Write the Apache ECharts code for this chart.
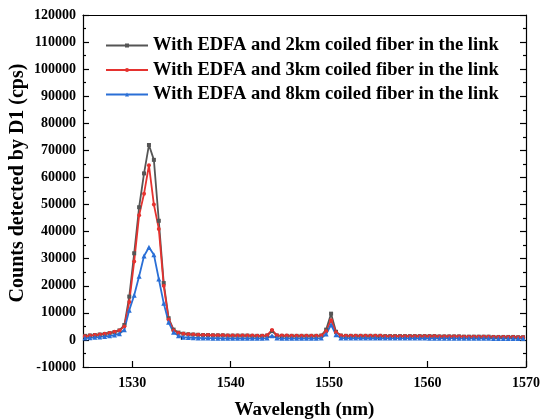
<!DOCTYPE html>
<html>
<head>
<meta charset="utf-8">
<script src="https://cdn.jsdelivr.net/npm/echarts@6/dist/echarts.min.js"></script>
<style>
  html, body { margin: 0; padding: 0; background: #fff; }
  #chart { width: 540px; height: 420px; }
</style>
</head>
<body>
<div id="chart"></div>
<script>
// wavelength samples (nm)
const wavelengths = [
  1525.2, 1525.7, 1526.2, 1526.7, 1527.2, 1527.7, 1528.2, 1528.7, 1529.2, 1529.7,
  1530.2, 1530.7, 1531.2, 1531.7, 1532.2, 1532.7, 1533.2, 1533.7, 1534.2, 1534.7,
  1535.2, 1535.7, 1536.2, 1536.7, 1537.2, 1537.7, 1538.2, 1538.7, 1539.2, 1539.7,
  1540.2, 1540.7, 1541.2, 1541.7, 1542.2, 1542.7, 1543.2, 1543.7, 1544.2, 1544.7,
  1545.2, 1545.7, 1546.2, 1546.7, 1547.2, 1547.7, 1548.2, 1548.7, 1549.2, 1549.7,
  1550.2, 1550.7, 1551.2, 1551.7, 1552.2, 1552.7, 1553.2, 1553.7, 1554.2, 1554.7,
  1555.2, 1555.7, 1556.2, 1556.7, 1557.2, 1557.7, 1558.2, 1558.7, 1559.2, 1559.7,
  1560.2, 1560.7, 1561.2, 1561.7, 1562.2, 1562.7, 1563.2, 1563.7, 1564.2, 1564.7,
  1565.2, 1565.7, 1566.2, 1566.7, 1567.2, 1567.7, 1568.2, 1568.7, 1569.2, 1569.7
]

const counts2km = [
  1500, 1650, 1800, 2000, 2200, 2500, 2900, 3500, 5500, 16000,
  32000, 49000, 61500, 72000, 66500, 44000, 21000, 8000, 3800, 2700,
  2300, 2100, 2000, 1900, 1800, 1800, 1700, 1700, 1700, 1600,
  1600, 1600, 1600, 1600, 1500, 1500, 1500, 1600, 3300, 1600,
  1500, 1500, 1500, 1500, 1500, 1500, 1500, 1500, 1600, 3800,
  9700, 3000, 1600, 1500, 1500, 1500, 1500, 1500, 1500, 1500,
  1500, 1400, 1400, 1400, 1400, 1400, 1400, 1400, 1400, 1400,
  1400, 1400, 1300, 1300, 1300, 1300, 1300, 1200, 1200, 1200,
  1200, 1200, 1200, 1100, 1100, 1100, 1100, 1100, 1000, 1000
]

const counts3km = [
  1400, 1600, 1800, 2000, 2300, 2600, 3000, 3500, 5000, 14000,
  29000, 46000, 54000, 64500, 50000, 41000, 20000, 7500, 3500, 2600,
  2300, 2100, 2000, 1900, 1800, 1800, 1700, 1700, 1700, 1600,
  1600, 1600, 1600, 1600, 1600, 1500, 1500, 1700, 3700, 1700,
  1600, 1600, 1500, 1500, 1500, 1500, 1500, 1500, 1600, 3200,
  7300, 2800, 1600, 1500, 1500, 1500, 1500, 1500, 1500, 1500,
  1500, 1400, 1400, 1400, 1400, 1400, 1400, 1400, 1400, 1400,
  1400, 1400, 1300, 1300, 1300, 1300, 1300, 1200, 1200, 1200,
  1200, 1200, 1200, 1100, 1100, 1100, 1100, 1100, 1000, 1000
]

const counts8km = [
  700, 800, 950, 1100, 1300, 1500, 1800, 2300, 3800, 11000,
  16500, 23500, 31000, 34200, 31500, 22500, 13500, 6500, 2800, 1500,
  1000, 900, 800, 750, 700, 700, 650, 650, 600, 600,
  600, 600, 600, 600, 600, 600, 600, 700, 1500, 700,
  600, 600, 600, 600, 600, 600, 600, 600, 700, 2200,
  5600, 1900, 700, 700, 700, 700, 700, 700, 700, 700,
  700, 700, 700, 700, 700, 700, 700, 700, 700, 700,
  650, 650, 650, 650, 650, 650, 600, 600, 600, 600,
  600, 600, 600, 550, 550, 550, 550, 500, 500, 500
]

const seriesNames = [
  'With EDFA and 2km coiled fiber in the link',
  'With EDFA and 3km coiled fiber in the link',
  'With EDFA and 8km coiled fiber in the link'
]

const xMajorTicks = [1530, 1540, 1550, 1560, 1570]
const xMinorTicks = [1535, 1545, 1555, 1565]

const FONT = '"Liberation Serif", "Times New Roman", serif'

function pairs(values) {
  return wavelengths.map((w, i) => [w, values[i]])
}

function makeSeries(name, values, color, symbol, size) {
  return {
    type: 'line',
    name,
    data: pairs(values),
    xAxisIndex: 0,
    yAxisIndex: 0,
    symbol,
    symbolSize: size,
    showAllSymbol: true,
    lineStyle: { color, width: 1.8 },
    itemStyle: { color },
    emphasis: { disabled: true },
  }
}

const axisLine = { show: true, onZero: false, lineStyle: { color: '#000', width: 1.2 } }
const tickLine = { color: '#000', width: 1.2 }

function buildOption() {
  return {
    animation: false,
    backgroundColor: '#fff',
    grid: { left: 83, right: 14, top: 15, bottom: 53, containLabel: false, outerBoundsMode: 'none' },
    legend: {
      orient: 'vertical',
      left: 100,
      top: 31,
      itemWidth: 42,
      itemHeight: 5,
      itemGap: 5.5,
      data: seriesNames,
      textStyle: { fontFamily: FONT, fontWeight: 'bold', fontSize: 18.5, color: '#000' },
    },
    xAxis: [
      {
        type: 'value',
        min: 1525,
        max: 1570,
        position: 'bottom',
        axisLine,
        axisTick: { show: true, inside: true, length: 6, customValues: xMajorTicks, lineStyle: tickLine },
        axisLabel: {
          customValues: xMajorTicks,
          formatter: (v) => String(v),
          fontFamily: FONT, fontWeight: 'bold', fontSize: 14, color: '#000', margin: 9,
        },
        splitLine: { show: false },
        name: 'Wavelength (nm)',
        nameLocation: 'middle',
        nameGap: 34,
        nameTextStyle: { fontFamily: FONT, fontWeight: 'bold', fontSize: 19, color: '#000' },
      },
      {
        type: 'value',
        min: 1525,
        max: 1570,
        position: 'bottom',
        axisLine: { show: false },
        axisTick: { show: true, inside: true, length: 3, customValues: xMinorTicks, lineStyle: tickLine },
        axisLabel: { show: false },
        splitLine: { show: false },
      },
      {
        type: 'value',
        min: 1525,
        max: 1570,
        position: 'top',
        axisLine,
        axisTick: { show: false },
        axisLabel: { show: false },
        splitLine: { show: false },
      },
    ],
    yAxis: [
      {
        type: 'value',
        min: -10000,
        max: 120000,
        interval: 10000,
        position: 'left',
        axisLine,
        axisTick: { show: true, inside: true, length: 6, lineStyle: tickLine },
        minorTick: { show: true, splitNumber: 2, length: 3, lineStyle: tickLine },
        axisLabel: {
          formatter: (v) => String(v),
          fontFamily: FONT, fontWeight: 'bold', fontSize: 14, color: '#000', margin: 7,
        },
        splitLine: { show: false },
        name: 'Counts detected by D1 (cps)',
        nameLocation: 'middle',
        nameGap: 55,
        nameMoveOverlap: false,
        nameTextStyle: { fontFamily: FONT, fontWeight: 'bold', fontSize: 20, color: '#000', padding: [0, 0, 0, 16] },
      },
      {
        type: 'value',
        min: -10000,
        max: 120000,
        interval: 10000,
        position: 'right',
        axisLine,
        axisTick: { show: true, inside: true, length: 6, lineStyle: tickLine },
        minorTick: { show: true, splitNumber: 2, length: 3, lineStyle: tickLine },
        axisLabel: { show: false },
        splitLine: { show: false },
      },
    ],
    series: [
      makeSeries(seriesNames[0], counts2km, '#555555', 'rect', 4),
      makeSeries(seriesNames[1], counts3km, '#e5322f', 'circle', 4),
      makeSeries(seriesNames[2], counts8km, '#2a6fd6', 'triangle', 5),
    ],
  }
}

const chart = echarts.init(document.getElementById('chart'))
chart.setOption(buildOption())
</script>
</body>
</html>
